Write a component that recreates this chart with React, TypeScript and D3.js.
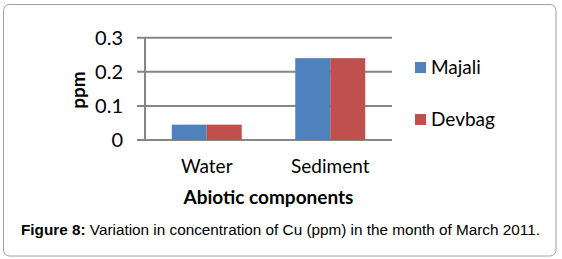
import React from "react";
import * as d3 from "d3";

const categories = ["Water", "Sediment"];
const seriesNames = ["Majali", "Devbag"];
const majali = [0.045, 0.24];
const devbag = [0.045, 0.24];
const yTicks = [0, 0.1, 0.2, 0.3];
const colors = ["#4F81BD", "#C0504D"];

export default function App() {
  const W = 562, H = 259;
  const left = 145, right = 392, top = 37.7, bottom = 140;
  const x = d3.scaleBand<string>().domain(categories).range([left, right]).paddingInner(0).paddingOuter(0);
  const y = d3.scaleLinear().domain([0, 0.3]).range([bottom, top]);
  const inner = d3.scaleBand<string>().domain(seriesNames).range([0, 70]);
  const groupOffset = (x.bandwidth() - 70) / 2;
  const series = [majali, devbag];
  const calibri = "Lato, 'Open Sans', sans-serif";
  return (
    <svg width={W} height={H} style={{ position: "absolute", left: 0, top: 0 }}>
      <rect x={3.5} y={4.5} width={552.5} height={251.5} rx={6} fill="#fff" stroke="#a0a0a0" strokeWidth={1} />
      {yTicks.map((t) => (
        <g key={t}>
          <line x1={left - 8} x2={right} y1={y(t)} y2={y(t)} stroke="#868686" strokeWidth={2} />
          <text x={123} y={y(t)} dy="0.36em" textAnchor="end" fontFamily={calibri} fontSize={20} fill="#000">
            {t === 0 ? "0" : t.toFixed(1)}
          </text>
        </g>
      ))}
      <line x1={left} x2={left} y1={top} y2={bottom} stroke="#868686" strokeWidth={2} />
      {categories.map((c, i) =>
        seriesNames.map((s, j) => {
          const v = series[j][i];
          return (
            <rect key={c + s} x={(x(c) as number) + groupOffset + (inner(s) as number)} y={y(v)} width={inner.bandwidth()} height={bottom - y(v)} fill={colors[j]} />
          );
        })
      )}
      {categories.map((c) => (
        <text key={c} x={(x(c) as number) + x.bandwidth() / 2} y={172.5} textAnchor="middle" fontFamily={calibri} fontSize={19} fill="#000">
          {c}
        </text>
      ))}
      <text x={268.5} y={204} textAnchor="middle" fontFamily={calibri} fontWeight="bold" fontSize={19} fill="#000">
        Abiotic components
      </text>
      <text transform="translate(85,90) rotate(-90)" textAnchor="middle" fontFamily={calibri} fontWeight="bold" fontSize={19} fill="#000">
        ppm
      </text>
      {seriesNames.map((s, j) => (
        <g key={s}>
          <rect x={415} y={62 + j * 52} width={11} height={11} fill={colors[j]} />
          <text x={431} y={74 + j * 51.5} fontFamily={calibri} fontSize={19} fill="#000">
            {s}
          </text>
        </g>
      ))}
      <text x={21} y={235} fontFamily="'Liberation Sans', Arial, sans-serif" fontSize={15.3} fill="#000">
        <tspan fontWeight="bold">Figure 8:</tspan> Variation in concentration of Cu (ppm) in the month of March 2011.
      </text>
    </svg>
  );
}
